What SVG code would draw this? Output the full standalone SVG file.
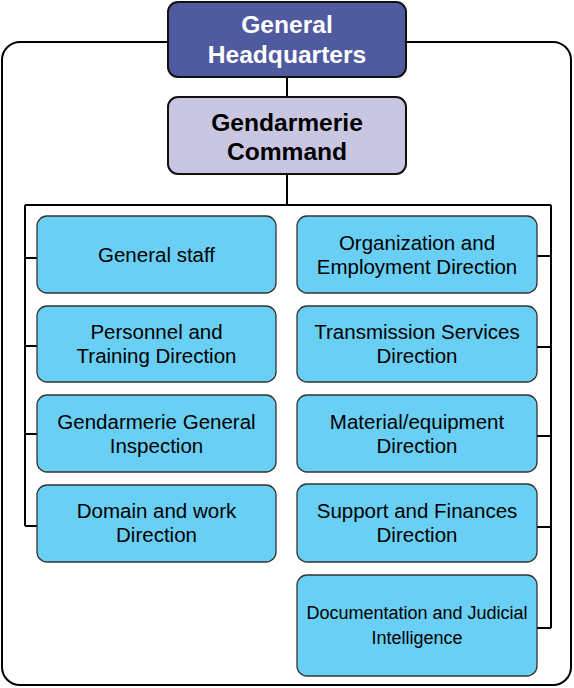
<svg xmlns="http://www.w3.org/2000/svg" width="574" height="688" viewBox="0 0 574 688">
<style>
.frame{fill:#fff;stroke:#000;stroke-width:2}
.conn line, .conn path{stroke:#000;stroke-width:2;fill:none}
.box{fill:#6acff5;stroke:#333;stroke-width:1.3}
.top{stroke:#111;stroke-width:2}
.t{font-family:"Liberation Sans",Arial,sans-serif;font-size:20.5px;fill:#000;text-anchor:middle}
.tb{font-family:"Liberation Sans",Arial,sans-serif;font-size:24.6px;font-weight:bold;text-anchor:middle}
</style>
<rect class="frame" x="2" y="42" width="569" height="643" rx="18" ry="18"/>
<g class="conn" id="connectors">
<line x1="287" y1="77" x2="287" y2="97"/>
<line x1="287" y1="174" x2="287" y2="205"/>
<line x1="25" y1="205" x2="551" y2="205"/>
<path d="M25 205 V526"/>
<path d="M551 205 V628"/>
<line x1="25" y1="258" x2="37" y2="258"/>
<line x1="25" y1="346" x2="37" y2="346"/>
<line x1="25" y1="434" x2="37" y2="434"/>
<line x1="25" y1="526" x2="37" y2="526"/>
<line x1="537" y1="256" x2="551" y2="256"/>
<line x1="537" y1="347" x2="551" y2="347"/>
<line x1="537" y1="436" x2="551" y2="436"/>
<line x1="537" y1="527" x2="551" y2="527"/>
<line x1="537" y1="628" x2="551" y2="628"/>
</g>
<g id="ghq">
<rect class="top" x="168" y="2" width="238" height="75" rx="10" fill="#4f5a9f"/>
<text class="tb" x="287" y="33" fill="#fff">General</text>
<text class="tb" x="287" y="63" fill="#fff">Headquarters</text>
</g>
<g id="command">
<rect class="top" x="168" y="97" width="238" height="77" rx="10" fill="#c8c6e0"/>
<text class="tb" x="287" y="131" fill="#000">Gendarmerie</text>
<text class="tb" x="287" y="160" fill="#000">Command</text>
</g>
<g id="general-staff">
<rect class="box" x="37" y="216" width="239" height="77" rx="10"/>
<text class="t" x="156.5" y="262">General staff</text>
</g>
<g id="personnel">
<rect class="box" x="37" y="306" width="239" height="76" rx="10"/>
<text class="t" x="156.5" y="339">Personnel and</text>
<text class="t" x="156.5" y="363">Training Direction</text>
</g>
<g id="inspection">
<rect class="box" x="37" y="395" width="239" height="77" rx="10"/>
<text class="t" x="156.5" y="429">Gendarmerie General</text>
<text class="t" x="156.5" y="453">Inspection</text>
</g>
<g id="domain">
<rect class="box" x="37" y="485" width="239" height="77" rx="10"/>
<text class="t" x="156.5" y="518">Domain and work</text>
<text class="t" x="156.5" y="542">Direction</text>
</g>
<g id="organization">
<rect class="box" x="297" y="216" width="240" height="77" rx="10"/>
<text class="t" x="417" y="250">Organization and</text>
<text class="t" x="417" y="274">Employment Direction</text>
</g>
<g id="transmission">
<rect class="box" x="297" y="306" width="240" height="76" rx="10"/>
<text class="t" x="417" y="339">Transmission Services</text>
<text class="t" x="417" y="363">Direction</text>
</g>
<g id="material">
<rect class="box" x="297" y="395" width="240" height="77" rx="10"/>
<text class="t" x="417" y="429">Material/equipment</text>
<text class="t" x="417" y="453">Direction</text>
</g>
<g id="support">
<rect class="box" x="297" y="484" width="240" height="78" rx="10"/>
<text class="t" x="417" y="518">Support and Finances</text>
<text class="t" x="417" y="542">Direction</text>
</g>
<g id="documentation">
<rect class="box" x="297" y="575" width="240" height="101" rx="10"/>
<text class="t" x="417" y="619" style="font-size:18px">Documentation and Judicial</text>
<text class="t" x="417" y="644" style="font-size:18px">Intelligence</text>
</g>
</svg>
